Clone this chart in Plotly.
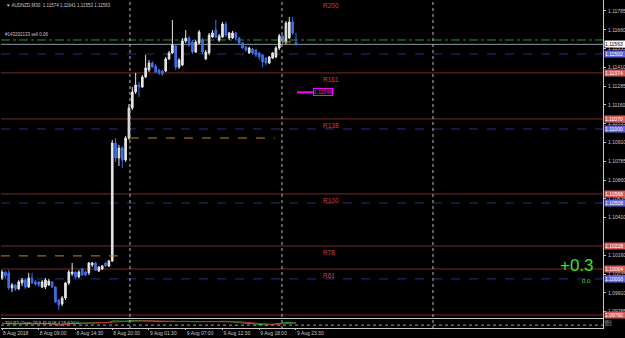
import plotly.graph_objects as go

# ---------------- data ----------------
symbol = "AUDNZD,M30"
opens = [1.10009,1.10049,1.10043,1.09943,1.09963,1.09936,1.09976,1.09996,1.09949,1.10009,
         1.09983,1.09983,1.09949,1.09949,1.09963,1.09983,1.09949,1.09863,1.09836,1.09876,
         1.09976,1.10036,1.10049,1.10016,1.10069,1.10049,1.10043,1.10096,1.10109,1.10056,
         1.10069,1.10109,1.10089,1.10122,1.10907,1.10807,1.10874,1.10794,1.10940,1.11140,
         1.11246,1.11293,1.11279,1.11346,1.11392,1.11439,1.11419,1.11392,1.11386,1.11386,
         1.11466,1.11506,1.11552,1.11412,1.11426,1.11585,1.11605,1.11579,1.11512,1.11572,
         1.11592,1.11466,1.11506,1.11612,1.11658,1.11592,1.11612,1.11698,1.11605,1.11605,
         1.11639,1.11605,1.11572,1.11545,1.11506,1.11532,1.11525,1.11506,1.11492,1.11472,
         1.11439,1.11472,1.11479,1.11539,1.11619,1.11579,1.11605,1.11712,1.11574]
highs = [1.10062,1.10056,1.10062,1.09976,1.09969,1.09996,1.10009,1.10003,1.10043,1.10043,
         1.09996,1.09989,1.09996,1.10009,1.10003,1.09989,1.09956,1.09870,1.09890,1.09983,
         1.10062,1.10109,1.10056,1.10062,1.10076,1.10056,1.10116,1.10116,1.10116,1.10089,
         1.10096,1.10116,1.10129,1.10927,1.10940,1.10894,1.10887,1.10954,1.11166,1.11279,
         1.11373,1.11313,1.11359,1.11492,1.11459,1.11452,1.11432,1.11399,1.11392,1.11479,
         1.11519,1.11725,1.11565,1.11472,1.11605,1.11658,1.11619,1.11592,1.11592,1.11658,
         1.11605,1.11525,1.11639,1.11658,1.11725,1.11632,1.11712,1.11712,1.11645,1.11652,
         1.11645,1.11612,1.11579,1.11552,1.11545,1.11539,1.11532,1.11512,1.11499,1.11479,
         1.11486,1.11512,1.11552,1.11632,1.11625,1.11718,1.11745,1.11745,1.11641]
lows = [1.09996,1.10009,1.09930,1.09916,1.09923,1.09930,1.09956,1.09936,1.09943,1.09969,
        1.09956,1.09949,1.09943,1.09936,1.09956,1.09943,1.09843,1.09797,1.09823,1.09863,
        1.09963,1.10023,1.10003,1.10009,1.10023,1.10023,1.10029,1.10082,1.10056,1.10049,
        1.10062,1.10082,1.10082,1.10116,1.10781,1.10754,1.10741,1.10781,1.10927,1.11126,
        1.11233,1.11213,1.11273,1.11339,1.11379,1.11406,1.11373,1.11359,1.11353,1.11379,
        1.11459,1.11499,1.11392,1.11399,1.11419,1.11572,1.11545,1.11499,1.11506,1.11565,
        1.11499,1.11459,1.11492,1.11605,1.11605,1.11579,1.11605,1.11612,1.11592,1.11599,
        1.11592,1.11565,1.11532,1.11512,1.11499,1.11492,1.11479,1.11459,1.11412,1.11426,
        1.11432,1.11466,1.11472,1.11525,1.11565,1.11565,1.11599,1.11625,1.11553]
closes = [1.10049,1.10023,1.09943,1.09963,1.09936,1.09983,1.09996,1.09949,1.10009,1.09976,
          1.09969,1.09963,1.09983,1.09996,1.09989,1.09949,1.09850,1.09830,1.09876,1.09976,
          1.10049,1.10049,1.10016,1.10049,1.10029,1.10029,1.10109,1.10109,1.10062,1.10082,
          1.10089,1.10089,1.10122,1.10907,1.10807,1.10874,1.10794,1.10940,1.11140,1.11246,
          1.11293,1.11279,1.11346,1.11406,1.11439,1.11412,1.11379,1.11373,1.11366,1.11466,
          1.11506,1.11559,1.11412,1.11459,1.11585,1.11605,1.11559,1.11512,1.11579,1.11645,
          1.11512,1.11512,1.11625,1.11639,1.11612,1.11619,1.11698,1.11625,1.11639,1.11639,
          1.11605,1.11572,1.11539,1.11525,1.11539,1.11506,1.11492,1.11479,1.11446,1.11439,
          1.11479,1.11506,1.11539,1.11619,1.11579,1.11705,1.11712,1.11639,1.11563]

time_tick_idx = [0, 11, 22, 33, 44, 55, 66, 77, 88]
time_tick_labels = ["8 Aug 2018", "8 Aug 09:00", "8 Aug 14:30", "8 Aug 20:00", "9 Aug 01:30",
                    "9 Aug 07:00", "9 Aug 12:30", "9 Aug 18:00", "9 Aug 23:30"]
separator_idx = [38.3, 83.8, 129.0]

price_ticks = [1.09785, 1.09910, 1.10035, 1.10160, 1.10410, 1.10535, 1.10660,
               1.10785, 1.10910, 1.11035, 1.11160, 1.11285, 1.11410, 1.11535, 1.11660, 1.11785]

res_names = ["R161", "R138", "R100", "R78", "R61", ""]
res_prices = [1.11373, 1.11067, 1.10568, 1.10222, 1.10069, 1.09763]
res_box_text = ["1.11374", "1.11070", "1.10568", "1.10228", "1.10064", "1.09760"]
blue_prices = [1.11499, 1.11000, 1.10508, 1.10003]
blue_box_text = ["1.11502", "1.11000", "1.10508", "1.10000"]
order_price = 1.11592
order_label = "#143202133 sell 0.06"
bid_price = 1.11563
orange_segments = [(38.3, 81.7, 1.10940), (-0.3, 35.9, 1.10156), (83.8, 88.3, 1.11579)]
magenta_seg = (88.3, 93.1, 1.11244)

tdi_green = [50,48,45,42,44,47,50,49,46,48,47,
             46,47,49,50,48,40,32,35,42,50,
             55,53,54,53,52,56,58,57,56,58,59,60,
             78,76,74,72,75,80,83,84,
             82,80,81,80,76,72,70,68,70,72,
             75,70,71,74,76,73,70,71,74,70,
             68,72,74,73,75,77,74,72,71,68,
             62,56,52,50,47,44,40,36,34,38,
             42,48,55,54,60,64,58,55]
tdi_red = [52,51,49,47,46,46,47,48,48,48,47,
           47,47,47,48,48,46,42,39,38,40,
           45,49,51,52,53,53,54,55,56,57,57,58,
           62,66,69,71,73,75,78,80,
           81,81,81,81,80,78,76,74,72,72,
           72,72,72,72,73,73,73,72,72,72,
           71,71,71,72,72,73,74,74,73,72,
           70,67,64,60,56,52,48,44,41,39,
           39,41,44,47,50,53,55,56]
tdi_levels = [68, 32]
tdi_label = "TDI-RT-Clone 78.9 45.8 58.4 58.8 52.0"
pnl_text = "+0.3"
pnl_small = "0.0"
pnl_price = 1.10089
pnl_small_price = 1.09989

# ---------------- figure ----------------
idx = list(range(len(closes)))
FG = "#c8c8c8"
UPC = "#e6e6e6"
DNC = "#3f6ee8"
REDL = "#7e2a2a"
REDBOX = "#d45a5a"
BLUEL = "#2c2c86"
BLUEBOX = "#6464d8"
FONT = "Liberation Sans"

fig = go.Figure()
fig.add_trace(go.Candlestick(
    x=idx, open=opens, high=highs, low=lows, close=closes,
    increasing=dict(line=dict(color=UPC, width=1), fillcolor=UPC),
    decreasing=dict(line=dict(color=DNC, width=1), fillcolor=DNC),
    whiskerwidth=0, xaxis="x", yaxis="y", showlegend=False, hoverinfo="skip"))

fig.add_trace(go.Scatter(x=idx, y=tdi_green, mode="lines", line=dict(color="#18b818", width=1),
                         xaxis="x2", yaxis="y2", showlegend=False, hoverinfo="skip"))
fig.add_trace(go.Scatter(x=idx, y=tdi_red, mode="lines", line=dict(color="#c03030", width=1),
                         xaxis="x2", yaxis="y2", showlegend=False, hoverinfo="skip"))

fig.add_trace(go.Scatter(x=[magenta_seg[0], magenta_seg[1]], y=[magenta_seg[2]] * 2, mode="lines",
                         line=dict(color="#ff00ff", width=2), xaxis="x", yaxis="y",
                         showlegend=False, hoverinfo="skip"))

shapes = []
annotations = []

def hline(price, color, dash="solid", width=1):
    shapes.append(dict(type="line", xref="x domain", x0=0, x1=1, yref="y", y0=price, y1=price,
                       line=dict(color=color, width=width, dash=dash), layer="below"))

def pricebox(price, text, bg, fg):
    annotations.append(dict(xref="paper", x=1, xanchor="left", xshift=1, yref="y", y=price,
                            yanchor="middle", text=text, showarrow=False, bgcolor=bg,
                            font=dict(size=5, color=fg, family=FONT), borderpad=0,
                            width=20, height=6, align="left"))

for n, p, t in zip(res_names, res_prices, res_box_text):
    hline(p, REDL)
    pricebox(p, t, REDBOX, "#ffffff")
    if n:
        annotations.append(dict(xref="x", x=95.5, xanchor="left", yref="y", y=p, yanchor="top",
                                yshift=-1, text=n, showarrow=False,
                                font=dict(size=6.5, color="#c04a4a", family=FONT)))
for p, t in zip(blue_prices, blue_box_text):
    hline(p, BLUEL, dash="dash")
    pricebox(p, t, BLUEBOX, "#ffffff")

hline(order_price, "#1f9a1f", dash="dashdot")
hline(bid_price, "#8d99a4")
pricebox(bid_price, f"{bid_price:.5f}", "#ffffff", "#000000")

for x0, x1, p in orange_segments:
    shapes.append(dict(type="line", xref="x", x0=x0, x1=x1, yref="y", y0=p, y1=p,
                       line=dict(color="#c8860e", width=1, dash="dash")))

for sx in separator_idx:
    shapes.append(dict(type="line", xref="x", x0=sx, x1=sx, yref="paper", y0=0, y1=1,
                       line=dict(color="#b8b8b8", width=1, dash="dot")))

shapes.append(dict(type="line", xref="x2 domain", x0=0, x1=1, yref="y2", y0=32, y1=32,
                   line=dict(color="#9a9a9a", width=1, dash="dot")))

annotations.append(dict(xref="x", x=magenta_seg[1], xanchor="left", yref="y", y=magenta_seg[2],
                        yanchor="middle", text=f"{magenta_seg[2]:.5f}", showarrow=False,
                        bordercolor="#ff00ff", borderwidth=1, borderpad=0,
                        font=dict(size=5, color="#ff00ff", family=FONT)))

annotations.append(dict(xref="paper", x=0, xanchor="left", xshift=3, yref="paper", y=1,
                        yanchor="top", yshift=-1,
                        text=f"▼ {symbol}  {opens[-1]:.5f} {highs[-1]:.5f} {lows[-1]:.5f} {closes[-1]:.5f}",
                        showarrow=False, font=dict(size=4.5, color=FG, family=FONT)))
annotations.append(dict(xref="paper", x=0, xanchor="left", xshift=2, yref="y", y=order_price,
                        yanchor="bottom", yshift=1, text=order_label, showarrow=False,
                        font=dict(size=4.5, color=FG, family=FONT)))
annotations.append(dict(xref="x", x=95.5, xanchor="left", yref="paper", y=1, yanchor="top",
                        text="R200", showarrow=False,
                        font=dict(size=6.5, color="#c04a4a", family=FONT)))
annotations.append(dict(xref="paper", x=0, xanchor="left", xshift=2, yref="y2", y=62,
                        yanchor="middle", text=tdi_label, showarrow=False,
                        font=dict(size=4.3, color=FG, family=FONT)))
annotations.append(dict(xref="paper", x=1, xanchor="right", xshift=-7, yref="y", y=pnl_price,
                        yanchor="middle", text=pnl_text, showarrow=False,
                        font=dict(size=17, color="#33e033", family=FONT)))
annotations.append(dict(xref="paper", x=1, xanchor="right", xshift=-10, yref="y", y=pnl_small_price,
                        yanchor="middle", text=pnl_small, showarrow=False,
                        font=dict(size=6, color="#33e033", family=FONT)))

H = 338
plot_h = H - 9
main_bottom = (plot_h - 318) / plot_h
fig.update_layout(
    width=625, height=H, margin=dict(l=1, r=22, t=0, b=9, autoexpand=False),
    paper_bgcolor="#000000", plot_bgcolor="#000000",
    shapes=shapes, annotations=annotations, showlegend=False,
    xaxis=dict(domain=[0, 1], range=[-0.3, 179.9], showgrid=False, zeroline=False,
               showticklabels=False, ticks="", showline=True, mirror=True, linecolor=FG,
               linewidth=1, rangeslider=dict(visible=False), anchor="y", automargin=False),
    yaxis=dict(domain=[main_bottom, 1], range=[1.09743, 1.11858], side="right", showgrid=False,
               zeroline=False, tickvals=price_ticks, ticktext=[f"{v:.5f}" for v in price_ticks],
               ticks="outside", ticklen=2, tickcolor=FG, showline=True, linecolor=FG,
               ticklabelstandoff=1,
               tickfont=dict(size=5, color=FG, family=FONT), anchor="x", automargin=False),
    xaxis2=dict(domain=[0, 1], range=[-0.3, 179.9], matches="x", showgrid=False, zeroline=False,
                tickvals=time_tick_idx, ticktext=time_tick_labels, ticks="outside", ticklen=1,
                tickcolor=FG, ticklabelposition="outside right", tickangle=0,
                tickfont=dict(size=5, color=FG, family=FONT),
                showline=True, mirror=True, linecolor=FG, anchor="y2", automargin=False),
    yaxis2=dict(domain=[1 / plot_h, 10 / plot_h], range=[0, 100], side="right", showgrid=False,
                zeroline=False, tickvals=tdi_levels, ticktext=[f"{v:.1f}" for v in tdi_levels],
                ticks="", tickfont=dict(size=3.5, color=FG, family=FONT),
                showline=True, linecolor=FG, anchor="x2", automargin=False),
)

fig.write_html("out.html")
